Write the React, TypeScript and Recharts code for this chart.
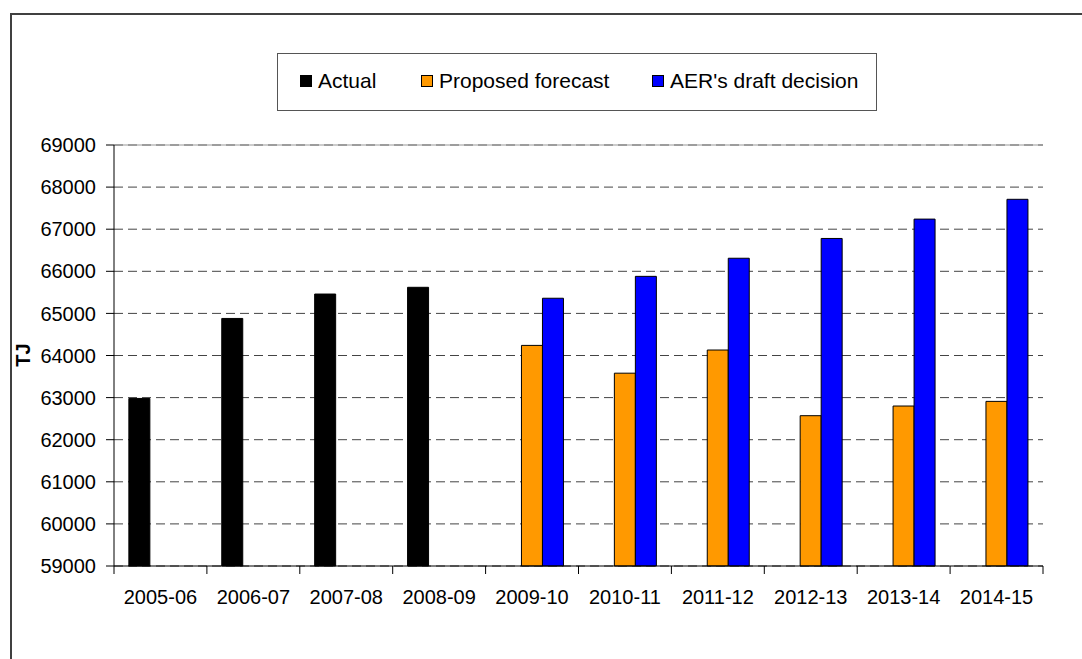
import React from "react"
import {
  BarChart,
  Bar,
  XAxis,
  YAxis,
  CartesianGrid,
  ReferenceLine,
} from "recharts"

const years = [
  "2005-06", "2006-07", "2007-08", "2008-09", "2009-10",
  "2010-11", "2011-12", "2012-13", "2013-14", "2014-15",
]
const actual = [62980, 64880, 65460, 65620, null, null, null, null, null, null]
const proposedForecast = [null, null, null, null, 64240, 63580, 64130, 62570, 62800, 62910]
const aerDraftDecision = [null, null, null, null, 65360, 65880, 66310, 66780, 67240, 67710]
const yTicks = [59000, 60000, 61000, 62000, 63000, 64000, 65000, 66000, 67000, 68000, 69000]

const series = [
  { key: "actual", name: "Actual", color: "#000000", legendX: 300 },
  { key: "proposed", name: "Proposed forecast", color: "#FF9900", legendX: 421 },
  { key: "aer", name: "AER's draft decision", color: "#0000FF", legendX: 652 },
]

const data = years.map((year, i) => ({
  year,
  actual: actual[i],
  proposed: proposedForecast[i],
  aer: aerDraftDecision[i],
}))

const FONT = "'Liberation Sans', Arial, sans-serif"
const CHART_W = 1082
const CHART_H = 659
const MARGIN = { top: 145, right: 39, bottom: 63, left: 0 }
const Y_AXIS_W = 114
const HALF_BAND = (CHART_W - MARGIN.left - MARGIN.right - Y_AXIS_W) / years.length / 2

// category label plus Excel-style tick marks on the band boundaries
function YearTick(props: any) {
  const { x, y, payload, index, visibleTicksCount } = props
  const half = payload && payload.offset ? payload.offset : HALF_BAND
  const last = index === (visibleTicksCount ?? years.length) - 1
  return (
    <g>
      <line x1={x - half} x2={x - half} y1={y} y2={y + 8} stroke="#000" />
      {last && <line x1={x + half} x2={x + half} y1={y} y2={y + 8} stroke="#000" />}
      <text x={x} y={y + 38} textAnchor="middle" fill="#000" fontSize={20} fontFamily={FONT}>
        {payload.value}
      </text>
    </g>
  )
}

function ChartLegend() {
  return (
    <>
      <div
        style={{
          position: "absolute",
          left: 277,
          top: 53,
          width: 600,
          height: 58,
          boxSizing: "border-box",
          border: "1px solid #555",
          background: "#fff",
        }}
      />
      {series.map((s) => (
        <div
          key={s.key}
          style={{
            position: "absolute",
            left: s.legendX,
            top: 68,
            height: 26,
            display: "flex",
            alignItems: "center",
            fontFamily: FONT,
            fontSize: 21,
            color: "#000",
            whiteSpace: "nowrap",
          }}
        >
          <span
            style={{
              display: "inline-block",
              width: 10,
              height: 10,
              background: s.color,
              border: "1px solid #000",
              marginRight: 6,
            }}
          />
          {s.name}
        </div>
      ))}
    </>
  )
}

export default function App() {
  return (
    <div style={{ position: "relative", width: CHART_W, height: CHART_H, overflow: "hidden", background: "#fff" }}>
      <style>{"body { margin: 0; overflow: hidden; }"}</style>
      <div
        style={{
          position: "absolute",
          left: 10,
          top: 13,
          width: 1200,
          height: 800,
          borderTop: "2px solid #404040",
          borderLeft: "2px solid #404040",
        }}
      />
      <BarChart
        width={CHART_W}
        height={CHART_H}
        data={data}
        margin={MARGIN}
        barCategoryGap="16%"
        barGap={0}
        style={{ position: "absolute", left: 0, top: 0, fontFamily: FONT }}
      >
        <CartesianGrid vertical={false} stroke="#444" strokeDasharray="9 5" />
        <XAxis
          dataKey="year"
          tickLine={false}
          tickSize={0}
          tickMargin={0}
          axisLine={{ stroke: "#000" }}
          tick={<YearTick />}
          interval={0}
          height={30}
        />
        <YAxis
          width={Y_AXIS_W}
          domain={[59000, 69000]}
          ticks={yTicks}
          interval={0}
          tickSize={8}
          tickMargin={10}
          axisLine={{ stroke: "#000" }}
          tickLine={{ stroke: "#000" }}
          tick={{ fill: "#000", fontSize: 20 }}
        />
        <YAxis
          yAxisId="frame"
          orientation="right"
          width={0}
          domain={[59000, 69000]}
          tick={false}
          tickLine={false}
          axisLine={{ stroke: "#999" }}
        />
        <ReferenceLine y={69000} stroke="#999" />
        {series.map((s) => (
          <Bar
            key={s.key}
            dataKey={s.key}
            name={s.name}
            fill={s.color}
            stroke="#000"
            strokeWidth={1}
            isAnimationActive={false}
          />
        ))}
      </BarChart>
      <div
        style={{
          position: "absolute",
          left: 23,
          top: 355,
          transform: "translate(-50%, -50%) rotate(-90deg)",
          fontFamily: FONT,
          fontSize: 20,
          fontWeight: "bold",
          color: "#000",
          lineHeight: 1,
        }}
      >
        TJ
      </div>
      <ChartLegend />
    </div>
  )
}
